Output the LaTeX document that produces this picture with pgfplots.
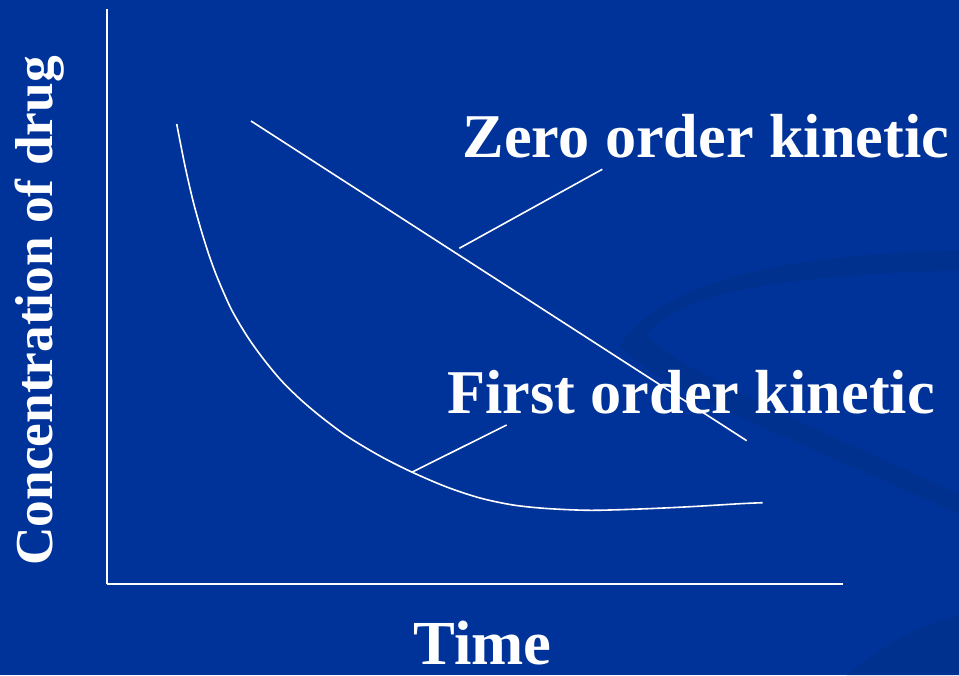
\documentclass[border=0pt]{standalone}
\usepackage{pgfplots}
\pgfplotsset{compat=1.18}
\usepackage{fontspec}
\setmainfont{Liberation Serif}
\definecolor{bg}{HTML}{003399}
\definecolor{swoosh}{HTML}{00318E}
\begin{document}
\begin{tikzpicture}[x=0.75pt,y=0.75pt]
% background: pixel (x,y) -> ((x-106.7), (584.3-y)) in units of 0.75pt
\fill[bg] (-106.7,-90.7) rectangle (852.3,584.3);
% faint decorative swoosh
\begin{scope}
\clip (-106.7,-90.7) rectangle (852.3,584.3);
\fill[swoosh] (513.3,239) .. controls (560,310) and (700,330) .. (852.3,334) -- (852.3,314) .. controls (720,310) and (580,300) .. (540,250) .. controls (560,220) and (700,160) .. (852.3,90) -- (852.3,70) .. controls (700,140) and (540,200) .. (513.3,239) -- cycle;
\fill[swoosh] (740,-90.7) .. controls (790,-50) and (820,-40) .. (852.3,-30) -- (852.3,-90.7) -- cycle;
\end{scope}
\begin{axis}[
  at={(0,0)}, anchor=south west,
  scale only axis,
  width=552pt, height=431.25pt,
  xmin=106.7, xmax=842.7, ymin=-584.3, ymax=-9.3,
  axis lines=left,
  axis line style={white, line width=1.7pt, -},
  xtick=\empty, ytick=\empty,
  clip=false,
]
% zero-order kinetic
\addplot[white, line width=1.2pt] coordinates {(251,-121) (746.7,-440.7)};
% first-order kinetic
\addplot[white, line width=1.2pt, smooth] coordinates {
(176.7,-124) (185,-166) (193.3,-202) (201.7,-232) (210,-258) (218.3,-280)
(231.7,-310) (248.3,-338) (265,-361) (281.7,-381) (300,-399) (320,-416)
(346.7,-436) (380,-456) (411.7,-472) (446.7,-487) (480,-498)
(513,-505) (546.7,-508.5) (590,-510.3) (640,-509) (690,-506.7) (740,-503.7) (762.7,-502.7)};
% pointer lines
\addplot[white, line width=1.2pt] coordinates {(459.3,-248.3) (602.3,-169.3)};
\addplot[white, line width=1.2pt] coordinates {(411.7,-472.3) (506.7,-425)};
% labels
\node[white, anchor=base, font=\fontsize{46.7pt}{56pt}\selectfont\bfseries] at (axis cs:706,-158) {Zero order kinetic};
\node[white, anchor=base, font=\fontsize{46.7pt}{56pt}\selectfont\bfseries] at (axis cs:691,-413) {First order kinetic};
\node[white, anchor=base, inner sep=1pt, font=\fontsize{47pt}{56pt}\selectfont\bfseries] at (axis cs:482.5,-664) {Time};
\node[white, anchor=base, rotate=90, font=\fontsize{40pt}{48pt}\selectfont\bfseries] at (axis cs:53,-311) {Concentration of drug};
\end{axis}
\end{tikzpicture}
\end{document}
